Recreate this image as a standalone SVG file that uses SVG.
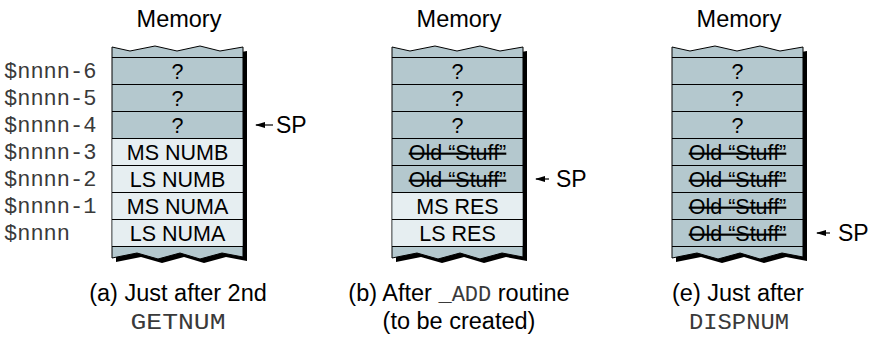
<svg xmlns="http://www.w3.org/2000/svg" width="882" height="338" viewBox="0 0 882 338">
<defs>
<style>
.sans{font-family:"Liberation Sans",Arial,sans-serif;fill:#000}
.mono{font-family:"Liberation Mono","Courier New",monospace;fill:#3a3a3a}
.ttl{font-size:23.5px;text-anchor:middle}
.cell{font-size:21.5px;text-anchor:middle}
.cap{font-size:23.5px;text-anchor:middle}
.cmono{font-size:22px;text-anchor:middle}
.lbl{font-size:22px}
.sp{font-size:23px}
.dark{fill:#b4c8ce}
.light{fill:#e6eef1}
.rl{stroke:#000;stroke-width:1}
.strike{text-decoration:line-through}
.arr{stroke:#000;stroke-width:1.2}
</style>
<path id="stk" d="M0,47 L18,51 L43,46 L65,51 L88,46 L108,51 L131,47 L131,257 L110,253 L88,259 L68,253 L46,259 L25,253 L0,258 Z"/>
<g id="rows">
<line class="rl" x1="0" y1="57.5" x2="131" y2="57.5"/>
<line class="rl" x1="0" y1="84.5" x2="131" y2="84.5"/>
<line class="rl" x1="0" y1="111.5" x2="131" y2="111.5"/>
<line class="rl" x1="0" y1="138.5" x2="131" y2="138.5"/>
<line class="rl" x1="0" y1="165.5" x2="131" y2="165.5"/>
<line class="rl" x1="0" y1="192.5" x2="131" y2="192.5"/>
<line class="rl" x1="0" y1="219.5" x2="131" y2="219.5"/>
<line class="rl" x1="0" y1="246.5" x2="131" y2="246.5"/>
</g>
<marker id="ah" markerWidth="10" markerHeight="8" refX="1" refY="4" orient="auto" markerUnits="userSpaceOnUse">
<path d="M10,1 L0,4 L10,7 Z" fill="#000"/>
</marker>
</defs>

<g id="addr-labels" class="mono lbl">
<text x="4" y="78">$nnnn-6</text>
<text x="4" y="105">$nnnn-5</text>
<text x="4" y="132">$nnnn-4</text>
<text x="4" y="159">$nnnn-3</text>
<text x="4" y="186">$nnnn-2</text>
<text x="4" y="213">$nnnn-1</text>
<text x="4" y="240">$nnnn</text>
</g>

<g id="stack-a" transform="translate(112,0)">
<text class="sans ttl" x="67" y="27">Memory</text>
<use href="#stk" transform="translate(4,4)" fill="#000"/>
<use href="#stk" class="dark" stroke="#000" stroke-width="1"/>
<rect class="light" x="0.5" y="138.5" width="130" height="108"/>
<use href="#rows"/>
<text class="sans cell" x="65.5" y="79">?</text>
<text class="sans cell" x="65.5" y="106">?</text>
<text class="sans cell" x="65.5" y="133">?</text>
<text class="sans cell" x="65.5" y="160">MS NUMB</text>
<text class="sans cell" x="65.5" y="187">LS NUMB</text>
<text class="sans cell" x="65.5" y="214">MS NUMA</text>
<text class="sans cell" x="65.5" y="241">LS NUMA</text>
<text class="sans cap" x="66" y="301">(a) Just after 2nd</text>
<text class="mono cmono" x="66" y="329" textLength="95" lengthAdjust="spacingAndGlyphs">GETNUM</text>
</g>

<g id="stack-b" transform="translate(392,0)">
<text class="sans ttl" x="67" y="27">Memory</text>
<use href="#stk" transform="translate(4,4)" fill="#000"/>
<use href="#stk" class="dark" stroke="#000" stroke-width="1"/>
<rect class="light" x="0.5" y="192.5" width="130" height="54"/>
<use href="#rows"/>
<text class="sans cell" x="65.5" y="79">?</text>
<text class="sans cell" x="65.5" y="106">?</text>
<text class="sans cell" x="65.5" y="133">?</text>
<text class="sans cell strike" x="65.5" y="160">Old “Stuff”</text>
<text class="sans cell strike" x="65.5" y="187">Old “Stuff”</text>
<text class="sans cell" x="65.5" y="214">MS RES</text>
<text class="sans cell" x="65.5" y="241">LS RES</text>
<text class="sans cap" x="67" y="301">(b) After <tspan class="mono" style="font-size:22px">_ADD</tspan> routine</text>
<text class="sans cap" x="67" y="329">(to be created)</text>
</g>

<g id="stack-c" transform="translate(672,0)">
<text class="sans ttl" x="67" y="27">Memory</text>
<use href="#stk" transform="translate(4,4)" fill="#000"/>
<use href="#stk" class="dark" stroke="#000" stroke-width="1"/>
<use href="#rows"/>
<text class="sans cell" x="65.5" y="79">?</text>
<text class="sans cell" x="65.5" y="106">?</text>
<text class="sans cell" x="65.5" y="133">?</text>
<text class="sans cell strike" x="65.5" y="160">Old “Stuff”</text>
<text class="sans cell strike" x="65.5" y="187">Old “Stuff”</text>
<text class="sans cell strike" x="65.5" y="214">Old “Stuff”</text>
<text class="sans cell strike" x="65.5" y="241">Old “Stuff”</text>
<text class="sans cap" x="66" y="301">(e) Just after</text>
<text class="mono cmono" x="67" y="329" textLength="100" lengthAdjust="spacingAndGlyphs">DISPNUM</text>
</g>

<g id="connectors">
<line class="arr" x1="256" y1="125" x2="273" y2="125" marker-start="url(#ah)"/>
<line class="arr" x1="536" y1="179" x2="549" y2="179" marker-start="url(#ah)"/>
<line class="arr" x1="817" y1="233" x2="830" y2="233" marker-start="url(#ah)"/>
</g>
<g id="sp-labels" class="sans sp">
<text x="276" y="133">SP</text>
<text x="556" y="187">SP</text>
<text x="838" y="241">SP</text>
</g>
</svg>
